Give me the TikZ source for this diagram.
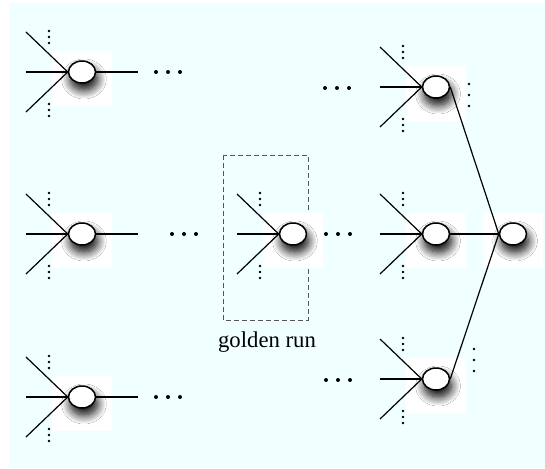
\documentclass[tikz,border=0pt]{standalone}
\usepackage{fontspec}
\setmainfont{Liberation Serif}
\usetikzlibrary{shapes.geometric,shadows.blur}
\definecolor{paper}{HTML}{F0FFFF}
\definecolor{frame}{HTML}{555555}
\tikzset{
  unit/.style={ellipse,draw,fill=white,line width=1.5pt,inner sep=0pt,
    minimum width=27pt,minimum height=22pt,
    blur shadow={shadow xshift=2pt,shadow yshift=-7pt,shadow blur radius=9pt,
      shadow blur steps=12,shadow opacity=100}},
  wire/.style={line width=1.2pt},
  golden/.style={draw=frame,line width=1pt,dash pattern=on 5pt off 3pt}
}
% one unit: white backing, node, three incoming wires and the elision dots
\newcommand\unitnode[3]{%
  \fill[white] (#2-30,#3-21) rectangle (#2+30,#3+34);
  \node[unit] (#1) at (#2,#3) {};
  \coordinate (#1-a) at (#2-56,#3-40);
  \coordinate (#1-b) at (#2-56,#3);
  \coordinate (#1-c) at (#2-56,#3+40);
  \draw[wire] (#1-a) -- (#1.west);
  \draw[wire] (#1-b) -- (#1.west);
  \draw[wire] (#1-c) -- (#1.west);
  \foreach \dy in {-41,-35,-29,32,38,44}
    \fill (#2-33,#3+\dy) circle (1.3pt);
}
% horizontal ellipsis
\newcommand\hdots[2]{%
  \foreach \dx in {0,12,24} \fill (#1+\dx,#2) circle (2pt);
}
% vertical ellipsis
\newcommand\vdotsat[2]{%
  \foreach \dy in {0,11,22} \fill (#1,#2+\dy) circle (1.4pt);
}
\begin{document}
\begin{tikzpicture}[x=1pt,y=-1pt]
  \useasboundingbox (0,0) rectangle (545,468);
  \fill[white] (0,0) rectangle (545,468);
  \fill[paper] (9,3) rectangle (545,468);

  % first layer
  \unitnode{l1}{82}{72}
  \unitnode{l2}{82}{234}
  \unitnode{l3}{82}{397}
  \coordinate (l1-o) at (138,72);
  \coordinate (l2-o) at (138,234);
  \coordinate (l3-o) at (138,397);
  \draw[wire] (l1) -- (l1-o);
  \draw[wire] (l2) -- (l2-o);
  \draw[wire] (l3) -- (l3-o);
  \hdots{156}{72}
  \hdots{172}{234}
  \hdots{156}{397}

  % golden run
  \draw[golden] (223,155) rectangle (308,320);
  \unitnode{g}{293}{234}
  \node[anchor=base,font=\fontsize{22.7}{27}\selectfont] (glabel) at (267,347) {golden run};
  \hdots{326}{234}

  % last hidden layer
  \hdots{325}{88}
  \hdots{326}{380}
  \unitnode{r1}{436}{87}
  \unitnode{r2}{436}{234}
  \unitnode{r3}{436}{379}

  % output unit
  \fill[white] (513-30,234-21) rectangle (513+30,234+34);
  \node[unit] (out) at (513,234) {};
  \draw[wire] (r1.east) -- (out.west);
  \draw[wire] (r2) -- (out.west);
  \draw[wire] (r3.east) -- (out.west);
  \vdotsat{469}{84}
  \vdotsat{474}{349}
\end{tikzpicture}
\end{document}
